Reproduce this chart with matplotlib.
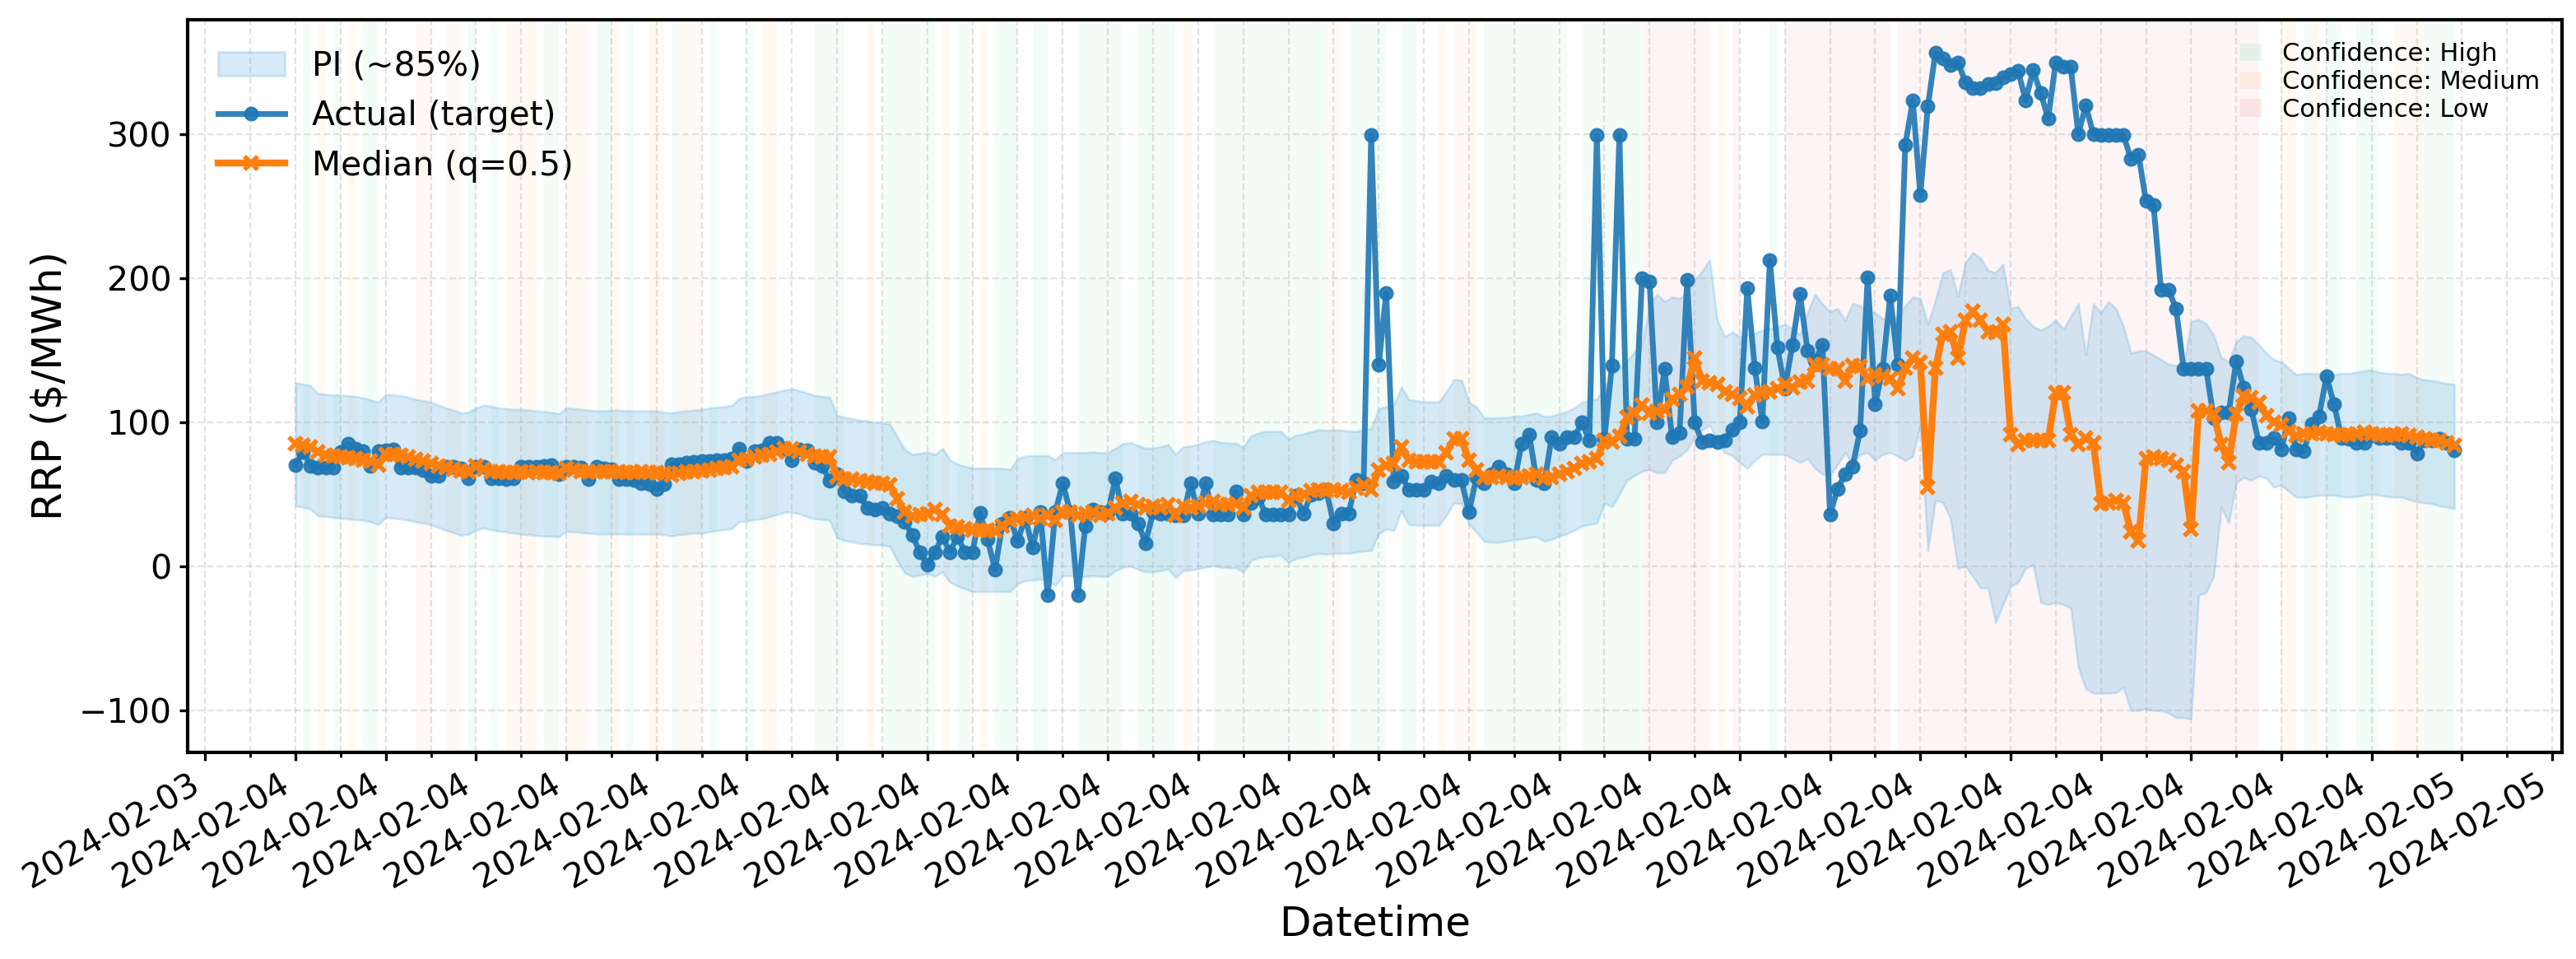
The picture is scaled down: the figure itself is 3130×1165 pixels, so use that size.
import matplotlib
matplotlib.use('agg')

import numpy as np
import pandas as pd
import matplotlib.pyplot as plt
import matplotlib.dates as mdates
from matplotlib.patches import Patch

# 5-minute steps over 2024-02-04
times = pd.date_range('2024-02-04 00:00', periods=288, freq='5min')

actual = [
    70.5, 79.5, 70, 68.5, 68.5, 68.5, 79.5, 85, 82, 80, 70, 80,
    80.5, 81, 68.5, 68.5, 68.5, 67, 62.7, 62.7, 69, 69, 68, 61,
    69, 69, 61.4, 61, 60.5, 61, 69, 69, 69, 70, 70.5, 64,
    69, 69, 68.5, 60.5, 69, 68, 67.5, 60.5, 60.5, 60, 58, 57,
    54, 57, 71, 71, 72, 72.4, 73, 73, 73.5, 74, 75, 82,
    73, 80, 80.6, 86, 86, 81.5, 73.5, 81, 80.6, 72, 70, 59.6,
    64, 52, 49, 49, 40.6, 39.6, 40.6, 36.8, 35, 31, 21.5, 10,
    1, 10, 20.6, 10, 20.6, 10, 10, 37, 18.7, -2.3, 30, 34,
    17.5, 34, 13, 37.5, -20, 37.5, 57.7, 37.5, -20, 28, 39.7, 37.5,
    37.5, 61, 36.5, 36.5, 30, 16.3, 37.5, 36.5, 36.5, 35.4, 35.4, 57.7,
    36.5, 57.7, 35.8, 35.8, 35.8, 52, 35.8, 44, 48, 35.8, 35.8, 35.8,
    35.8, 49, 36.5, 50, 51, 53.4, 30, 36.5, 36.5, 59.8, 57.7, 299.5,
    139.8, 190, 58.7, 63, 53.4, 53.4, 53.4, 58.7, 57.7, 63, 59.8, 59.8,
    37.5, 62, 57.7, 64, 69.4, 64, 57.7, 85.3, 91.6, 59.8, 57.7, 89.5,
    85.3, 89.5, 89.5, 100, 87.4, 299.5, 88.4, 139.3, 299.5, 88.4, 88.4, 199.8,
    197.7, 100, 137, 89.5, 92.7, 198.7, 100, 86.3, 87.4, 86.3, 87.4, 94.8,
    100, 193, 137.5, 100.5, 212.5, 152, 123.6, 154, 189, 150, 143, 153.6,
    36, 54, 64, 69.4, 94.4, 200.8, 112.5, 137, 188, 140, 292.5, 323.6,
    257.5, 319.4, 356.4, 352.8, 348, 350, 336, 332, 332, 334.7, 335.6, 339.7,
    341.7, 343.9, 323.6, 344.4, 328.6, 311, 350, 347.2, 346.7, 300, 320, 300,
    299.4, 299.4, 299.4, 299.4, 283, 286, 253.7, 251, 192, 192, 179, 137,
    137, 137, 137, 103, 107, 107, 142.5, 124, 109, 86, 86, 89,
    81.4, 103, 81.4, 80, 99, 104, 132, 112.4, 89, 88.5, 86, 86,
    90.7, 89, 89, 89, 86, 86, 78.3, 87.6, 87.6, 88.5, 86, 80.7,
]

median = [
    85, 84, 83, 79.5, 77, 76.5, 76, 75.5, 75, 74, 73, 70.5,
    78, 77.5, 77, 76, 74.5, 73, 71.5, 70, 68.5, 67.5, 66.5, 65.5,
    70, 67.5, 66, 65.5, 65, 65, 65.5, 65, 65.5, 65, 65, 64.5,
    68, 67, 65.5, 65.5, 66, 66, 65.5, 65.5, 65, 65, 65.5, 65,
    65, 64.5, 63.4, 64.5, 65.5, 66, 66.5, 67, 68, 68.5, 69, 74,
    74.3, 75.8, 77, 77.7, 79.6, 81.5, 81.5, 79.6, 77.7, 76.8, 75.8, 75.8,
    62.5, 60.6, 60.6, 59.6, 58.7, 57.7, 57.7, 56.8, 47, 37.7, 35, 36,
    36.8, 39.6, 35.8, 28.2, 27.2, 26.3, 25.3, 25.3, 25.3, 24.4, 28, 32,
    33, 34, 35.4, 33, 35.4, 32, 37.5, 37.5, 35.4, 36.5, 37.5, 35.4,
    36.5, 40.7, 44, 45, 42.8, 40.7, 41.8, 40.7, 42.8, 35.4, 41.8, 40.7,
    41.8, 44, 45, 42.8, 42.8, 43.4, 40.7, 49, 51.3, 51.3, 51.3, 51.3,
    46, 49, 50, 52.4, 53.4, 52.4, 53.4, 52.4, 51.3, 54.5, 56.6, 53.4,
    67, 70.4, 71.5, 83, 73.6, 72.5, 72.5, 72.5, 72.5, 79, 88.4, 88.4,
    73.6, 67, 62, 62, 63, 62, 60.9, 62, 63, 64, 61, 62,
    64, 66, 68.3, 71.5, 72.5, 74.7, 87.4, 86.3, 90.6, 103.3, 106.5, 111.8,
    106.5, 107.5, 108.6, 116, 119.2, 124.5, 144.6, 128.7, 127.7, 126.6, 121.3, 119.2,
    116.7, 111, 119, 120.8, 121.4, 123.6, 126.4, 124, 127.8, 128.6, 140, 140,
    137, 137, 128.6, 139.7, 138.9, 130.6, 133.3, 132, 130.6, 123.6, 137.5, 144.4,
    141.7, 54.7, 137.5, 161, 163, 144.4, 170.8, 177, 170.8, 163, 162.5, 168,
    91.7, 84.7, 87.5, 87.5, 87.5, 87.5, 120.8, 120.8, 91.7, 84.7, 88.9, 86,
    43.5, 44, 45.6, 44, 24, 17.7, 75, 76, 75, 73.6, 70.5, 65.8,
    25.5, 107.8, 107.8, 106, 84.5, 72, 106, 118.6, 117, 114, 104.7, 100,
    98.4, 93.8, 90.7, 92.2, 92.2, 92.9, 92.2, 91.6, 90.7, 91.6, 92.2, 92.9,
    92.2, 91.6, 90.7, 91.6, 92.2, 90.7, 89.8, 88.5, 87.6, 87.6, 86, 83.9,
]

pi_upper = [
    127.6, 126.5, 125.5, 120, 119.5, 119, 119, 118.5, 118, 117, 115.5, 114,
    119.5, 119, 118.5, 117.5, 116, 115, 114, 112, 110, 108.5, 106.5, 107,
    110, 112, 111, 110, 109.5, 109, 109, 108.5, 108, 107.5, 107, 106,
    110, 109.5, 109, 108.5, 108, 108, 108.5, 108.5, 108, 108, 108, 108,
    107.8, 107, 106.5, 107.5, 108, 108.5, 109, 110, 110.5, 111, 111.6, 116.8,
    117.5, 118, 118.7, 120, 121, 122.5, 123.4, 122, 120.5, 118.7, 118, 117.3,
    104.8, 103.5, 102.5, 101.5, 101, 100, 99.6, 99, 90, 81, 77.7, 78.5,
    79.2, 77.7, 81.9, 74, 71, 69.5, 68.2, 68.2, 68.2, 68.2, 68, 67.2,
    75, 76.5, 77, 76.8, 77, 74, 79, 79, 79, 79, 79.5, 79,
    79, 82, 85.3, 86, 84, 82, 82, 83, 84.6, 77.8, 83, 83.5,
    85, 86.5, 87.4, 86, 85.5, 85.5, 82.5, 90.6, 92.5, 93.7, 93.7, 93.7,
    88.4, 91, 92, 93.5, 94.8, 94.5, 94.8, 94.5, 94, 93.7, 94.8, 95.9,
    109.6, 111, 111.8, 124.5, 116, 115, 114.3, 114.3, 114.3, 121.3, 129.8, 129.4,
    114, 110.7, 103.3, 103, 103.3, 103.5, 104.3, 104.3, 105.5, 106.5, 104, 104.3,
    106, 107.5, 110, 114, 115, 116, 124.5, 133, 138, 142.5, 149, 154,
    181.8, 189, 183.9, 187, 186, 190, 198.7, 205, 213, 171, 159.5, 162.7,
    159.5, 161, 162, 164, 165, 166.5, 168, 165, 161, 176, 189, 182,
    177, 179, 171, 182.5, 181, 177.8, 176, 172, 171, 173.6, 181, 187,
    186, 168, 184.7, 204, 206, 187.5, 211, 218, 214, 205.5, 204, 209.7,
    179, 180.5, 172, 166.7, 164, 166.7, 171, 164.7, 173.6, 182.5, 147, 182.5,
    176, 183.9, 179, 166.8, 148, 149.7, 149.7, 146.6, 143.5, 140.4, 139.4, 138.8,
    170, 171.4, 168.3, 160.6, 145, 142, 156, 160, 159, 154, 148, 143.5,
    142, 137.3, 133.2, 134, 134, 134, 133.2, 133.2, 134, 134, 134.8, 135.7,
    136.3, 134.8, 134, 134, 133.2, 134, 131, 129.5, 129, 128, 127, 126.4,
]

pi_lower = [
    42, 41, 40, 35, 34.8, 34, 33.5, 33, 32.5, 32, 31, 29,
    34, 33.5, 33, 32, 31, 30, 29, 27, 25, 23.5, 21.5, 22.5,
    25, 26.6, 25.5, 24.5, 24, 23, 22.4, 22, 21.5, 21, 21, 20.5,
    24.3, 24, 23.5, 23, 22.5, 22.5, 22.5, 22.5, 22.4, 22.4, 22.4, 22.4,
    22.5, 22, 21, 22, 22.5, 23, 23, 24, 25, 25.5, 26.3, 31,
    31.5, 32.5, 33, 34.5, 36, 37.5, 37.7, 36.5, 34.5, 33, 32.5, 32,
    19.6, 18, 17, 15.8, 15.5, 15, 14.9, 14, 4, -4.5, -7, -6,
    -5, -7, -3.8, -11, -13.7, -15.5, -17.5, -17.5, -17.5, -17.5, -17.5, -17.5,
    -12, -10, -9.5, -9, -9, -13.4, -6.6, -6.6, -7, -7, -6.5, -7,
    -7, -3, -0.6, 0, -2, -3.8, -3.8, -3, -1.7, -8, -2.8, -2.5,
    -1.7, -0.5, 0.4, -0.5, -1, -1, -3.8, 4, 6, 6.8, 7, 7.8,
    2.5, 5.5, 6.5, 8, 9, 8.5, 8.9, 9, 9, 10, 10.5, 11,
    22.7, 26, 24.8, 38.6, 29, 28.6, 28.6, 28.6, 28.6, 35.4, 44, 43.6,
    29, 23.8, 17.4, 16.8, 16.8, 17.5, 18.5, 19, 20, 20.6, 17.4, 18.9,
    21, 22.7, 25, 28, 29, 30, 44, 41.4, 50, 59.8, 63, 66,
    67.2, 65, 65, 73.6, 76.8, 81, 89.5, 94.8, 98, 87.4, 79, 76.8,
    72, 68, 73.6, 77.8, 77.8, 77.8, 77.8, 75, 72, 75, 68, 64,
    63, 70.8, 79, 70.8, 77.8, 79, 73.6, 77.8, 79, 76.4, 73.6, 76.4,
    98.6, 11, 45.8, 44.4, 33.3, -1.4, 0, -7, -15, -15, -38.9, -26.4,
    -13.9, -11, -1.4, 1.4, -25, -26.4, -25, -26.4, -29, -70, -85, -88,
    -88, -88, -87.5, -84, -100, -99.7, -98.8, -100, -100, -102, -105, -105,
    -106, -20, -18, -7, 41, 30, 58, 61.8, 59.6, 62.7, 61.2, 55,
    56.5, 51.9, 48, 48, 48.5, 49.4, 49.4, 49.4, 48.5, 48, 48.5, 49.4,
    50.3, 49.4, 48.5, 48, 48, 46.3, 45, 44, 43.5, 42, 41, 40,
]

# confidence per step: H high, M medium, L low, . none
confidence = (
    ".H.M.H.M.HH." "....MM..MM.H" "..H.MMMM.HH." "MMM.HHM.H..M"
    "M.HMMM.H...." "H.MM.....HHH" "H...M.HHHHHH" "H.M.HH.M.HHH"
    "..HH....HHHH" "HH..HHHHH.M." "..HHHHHHHHHH" "HHHHHMM.HHHH"
    "H..HH...M.MM" "M.HHHHHHHHHH" "H..HHHHHHHHL" "LLLLLLLL.M.L"
    "....H.LLLLLL" "LLLLLLLL.LLL" "LLLLLLLLLLLL" "LLLLLLLLLLLL"
    "LLLLLLLLLLLL" "LLLLLLLLL..." "MM.HM.HH..HH" "H..MMMMHHHH."
)

conf_colors = {'H': '#2ecc71', 'M': '#f39c12', 'L': '#e74c3c'}
conf_names = {'H': 'High', 'M': 'Medium', 'L': 'Low'}

fig = plt.figure(figsize=(15.65, 5.825), dpi=200)
ax = fig.add_axes([0.0728, 0.2155, 0.9219, 0.7639])

step = pd.Timedelta(minutes=5)
for t, c in zip(times, confidence):
    if c in conf_colors:
        ax.axvspan(t, t + step, color=conf_colors[c], alpha=0.05, lw=0, zorder=0)

ax.fill_between(times, pi_lower, pi_upper, color='#3498db', alpha=0.2,
                label='PI (~85%)', zorder=1)
ax.plot(times, actual, color='#1f77b4', lw=2.5, marker='o', ms=5.5,
        alpha=0.9, label='Actual (target)', zorder=3)
ax.plot(times, median, color='#ff7f0e', lw=3, marker='x', ms=6, mew=2,
        label='Median (q=0.5)', zorder=4)

span = times[-1] - times[0]
ax.set_xlim(times[0] - 0.05 * span, times[-1] + 0.05 * span)

ax.xaxis.set_major_locator(mdates.HourLocator(interval=1))
ax.xaxis.set_minor_locator(mdates.MinuteLocator(byminute=[30]))
ax.xaxis.set_major_formatter(mdates.DateFormatter('%Y-%m-%d'))
ax.set_yticks([-100, 0, 100, 200, 300])

ax.grid(True, which='both', linestyle='--', lw=0.8, alpha=0.35)
ax.tick_params(axis='both', which='major', labelsize=14.8, width=1.2)
ax.tick_params(axis='x', which='minor', width=1.0)
for s in ax.spines.values():
    s.set_linewidth(1.5)
plt.setp(ax.get_xticklabels(), rotation=30, ha='right')

ax.set_xlabel('Datetime', fontsize=18)
ax.set_ylabel(r'RRP (\$/MWh)', fontsize=18)

leg1 = ax.legend(loc='upper left', fontsize=14.7, frameon=False)
ax.add_artist(leg1)
conf_handles = [Patch(facecolor=conf_colors[k], alpha=0.1, edgecolor='none',
                      label='Confidence: ' + conf_names[k]) for k in 'HML']
ax.legend(handles=conf_handles, loc='upper right', fontsize=11, frameon=False,
          handlelength=0.9, labelspacing=0.15)

fig.savefig('out.png', dpi=200)
